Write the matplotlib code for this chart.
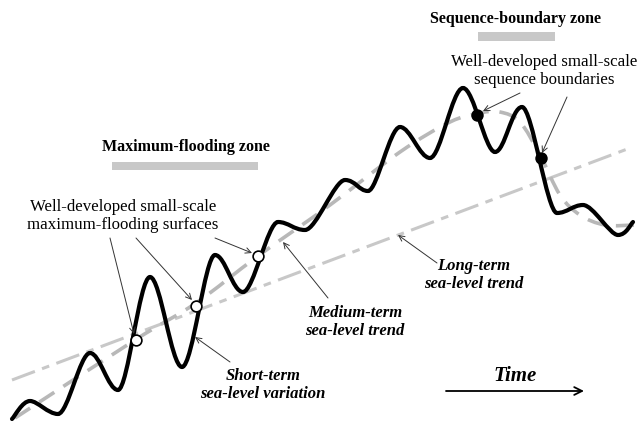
import numpy as np
import matplotlib
matplotlib.use("Agg")
import matplotlib.pyplot as plt
from matplotlib.path import Path
from matplotlib.patches import PathPatch

# 曲线数据（以图片像素为坐标，y 向下）
short_x = [12, 30, 58, 90, 118, 150, 182, 215, 243, 278, 305, 345, 368, 400, 430,
           463, 495, 522, 557, 583, 618, 633]
short_y = [419, 401, 414, 353, 390, 277, 367, 255, 292, 222, 230, 180, 191, 127, 158,
           88, 152, 107, 213, 205, 235, 222]

medium_x = [15, 135, 196, 258, 330, 400, 450, 480, 500, 520, 540, 560, 580, 605, 635]
medium_y = [418, 340, 303, 256, 205, 152, 122, 113, 112, 122, 155, 195, 215, 225, 225]

long_x = [12, 630]
long_y = [380, 148]

# 标记点
mfs_x = [136, 196, 258]
mfs_y = [340, 306, 256]
sb_x = [477, 541]
sb_y = [115, 158]


def smooth_path(xs, ys, extrema=True):
    # 分段三次贝塞尔，极值点处切线水平
    pts = np.column_stack([xs, ys]).astype(float)
    n = len(pts)
    tang = np.zeros_like(pts)
    for i in range(n):
        a = pts[max(i - 1, 0)]
        b = pts[min(i + 1, n - 1)]
        t = (b - a) / 2.0
        if extrema and 0 < i < n - 1:
            if (pts[i, 1] - a[1]) * (pts[i, 1] - b[1]) > 0:
                t[1] = 0.0
        tang[i] = t
    verts = [pts[0]]
    codes = [Path.MOVETO]
    for i in range(n - 1):
        verts += [pts[i] + tang[i] / 3.0, pts[i + 1] - tang[i + 1] / 3.0, pts[i + 1]]
        codes += [Path.CURVE4] * 3
    return Path(verts, codes)


plt.rcParams['font.family'] = ['Liberation Serif', 'DejaVu Serif']

fig = plt.figure(figsize=(6.4, 4.23), dpi=100)
ax = fig.add_axes([0, 0, 1, 1])
ax.set_xlim(0, 640)
ax.set_ylim(423, 0)
ax.axis('off')

# 长期趋势
ax.plot(long_x, long_y, color='#c8c8c8', lw=2.2, dashes=(8, 2.5, 2.5, 2.5), zorder=1)
# 中期趋势
ax.add_patch(PathPatch(smooth_path(medium_x, medium_y, extrema=False), fill=False,
                       edgecolor='#b8b8b8', lw=2.6, linestyle=(0, (5, 3)), zorder=2))
# 短期变化
ax.add_patch(PathPatch(smooth_path(short_x, short_y), fill=False,
                       edgecolor='black', lw=3.0, zorder=3, capstyle='round'))

ax.scatter(mfs_x, mfs_y, s=60, facecolor='white', edgecolor='black', lw=1.2, zorder=5)
ax.scatter(sb_x, sb_y, s=60, facecolor='black', edgecolor='black', lw=1.2, zorder=5)

# 区带标题与灰色条
ax.text(186, 147, 'Maximum-flooding zone', ha='center', va='center',
        fontsize=11.5, fontweight='bold')
ax.fill_between([112, 258], 162, 170, color='#c8c8c8', lw=0)
ax.text(516, 19, 'Sequence-boundary zone', ha='center', va='center',
        fontsize=11.5, fontweight='bold')
ax.fill_between([478, 555], 32, 41, color='#c8c8c8', lw=0)

# 注释
arr = dict(arrowstyle='->', color='#333333', lw=0.7, shrinkA=0, shrinkB=0)
ax.text(123, 216, 'Well-developed small-scale\nmaximum-flooding surfaces',
        ha='center', va='center', fontsize=12.2, linespacing=1.1)
ax.annotate('', xy=(134, 334), xytext=(110, 238), arrowprops=arr)
ax.annotate('', xy=(192, 300), xytext=(136, 238), arrowprops=arr)
ax.annotate('', xy=(252, 253), xytext=(215, 238), arrowprops=arr)

ax.text(544, 71, 'Well-developed small-scale\nsequence boundaries',
        ha='center', va='center', fontsize=12.2, linespacing=1.1)
ax.annotate('', xy=(483, 111), xytext=(520, 93), arrowprops=arr)
ax.annotate('', xy=(542, 153), xytext=(567, 97), arrowprops=arr)

bi = dict(fontsize=12, fontweight='bold', fontstyle='italic', ha='center', va='center',
          linespacing=1.1)
ax.text(355, 322, 'Medium-term\nsea-level trend', **bi)
ax.annotate('', xy=(283, 242), xytext=(328, 298), arrowprops=arr)
ax.text(474, 275, 'Long-term\nsea-level trend', **bi)
ax.annotate('', xy=(398, 235), xytext=(437, 263), arrowprops=arr)
ax.text(263, 385, 'Short-term\nsea-level variation', **bi)
ax.annotate('', xy=(195, 337), xytext=(230, 362), arrowprops=arr)

ax.text(515, 376, 'Time', fontsize=15, fontweight='bold', fontstyle='italic',
        ha='center', va='center')
ax.annotate('', xy=(584, 391), xytext=(446, 391),
            arrowprops=dict(arrowstyle='->', color='black', lw=1.3, mutation_scale=14,
                            shrinkA=0, shrinkB=0))

fig.savefig('out.png', dpi=100)
